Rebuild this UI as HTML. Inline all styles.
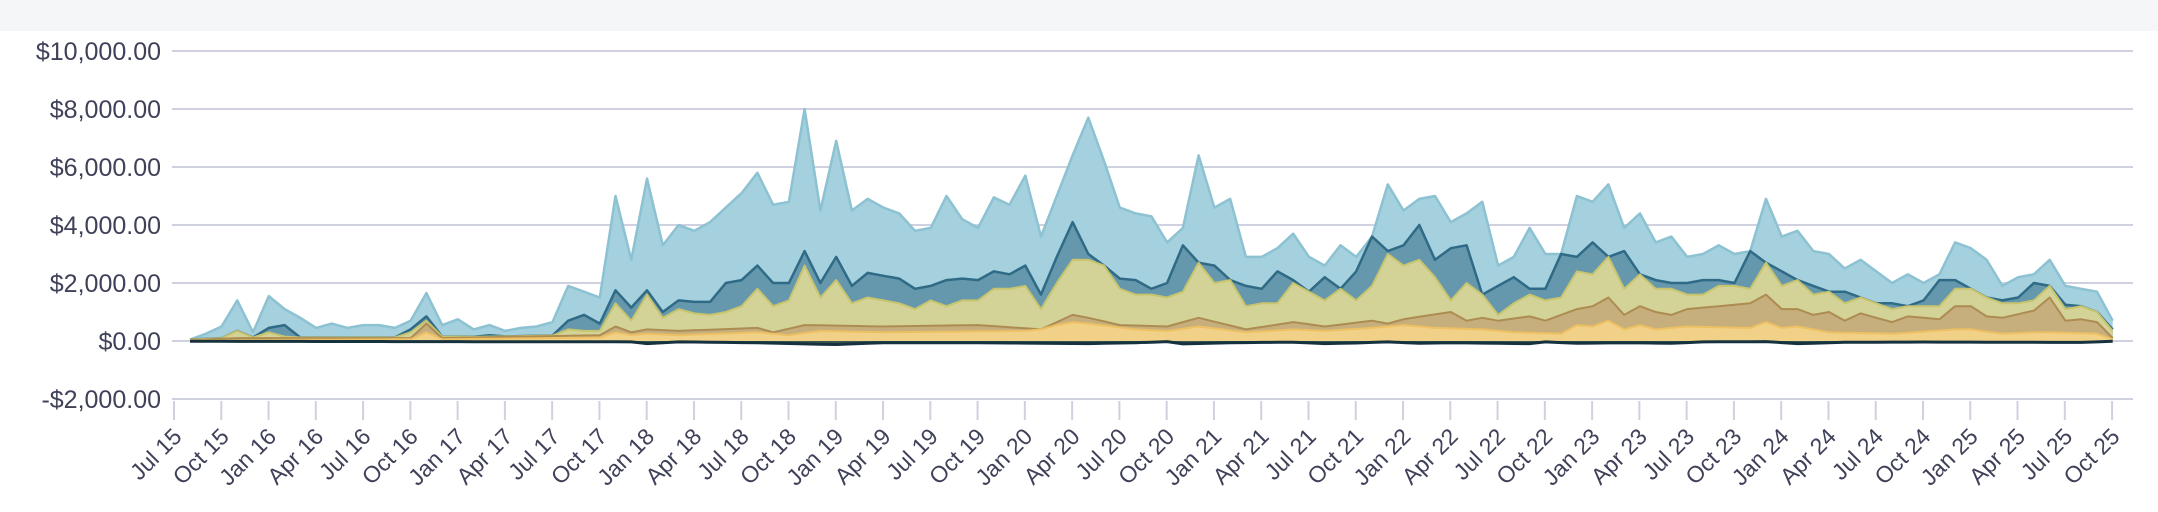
<!DOCTYPE html>
<html><head><meta charset="utf-8"><style>
html,body{margin:0;padding:0;background:#fff;}
svg{display:block;font-family:"Liberation Sans",sans-serif;}
</style></head><body>
<svg id="c" width="2158" height="512" viewBox="0 0 2158 512" xmlns="http://www.w3.org/2000/svg">
<rect x="0" y="0" width="2158" height="31" fill="#f5f6f8"/>
<g id="grid"></g><g id="areas"></g><g id="axis"></g>
</svg>
<script>
var NS="http://www.w3.org/2000/svg";
function el(t,a,p,txt){var e=document.createElementNS(NS,t);for(var k in a)e.setAttribute(k,a[k]);if(txt!=null)e.textContent=txt;p.appendChild(e);return e;}
var L=172,R=2133,y0=341,k=0.029;
function Y(v){return y0-v*k;}
function X(m){return 190+m*15.76;}
var grid=document.getElementById('grid'),axis=document.getElementById('axis'),areas=document.getElementById('areas');
var labs=["$10,000.00","$8,000.00","$6,000.00","$4,000.00","$2,000.00","$0.00","-$2,000.00"];
for(var i=0;i<7;i++){var v=10000-2000*i,y=Y(v);
el('line',{x1:L,x2:R,y1:y,y2:y,stroke:'#cfd1e0','stroke-width':2},grid);
el('text',{x:161,y:y+9,'text-anchor':'end','font-size':25,fill:'#3f4159'},axis,labs[i]);}
var mon=["Jul","Oct","Jan","Apr"];
for(var q=0;q<=41;q++){var x=174+q*47.27;
el('line',{x1:x,x2:x,y1:401,y2:420,stroke:'#cfd1e0','stroke-width':2},axis);
var yr=15+Math.floor((q+2)/4);var lab=mon[q%4]+" "+yr;
el('text',{'text-anchor':'end','font-size':23,fill:'#3f4159',transform:'translate('+(x+9)+',438) rotate(-45)'},axis,lab);}
var blue=[0,250,500,1400,300,1550,1100,800,450,600,450,550,550,450,700,1650,550,750,400,550,350,450,500,650,1900,1700,1500,5000,2800,5600,3300,4000,3800,4100,4600,5100,5800,4700,4800,8000,4500,6900,4500,4900,4600,4400,3800,3900,5000,4200,3900,4950,4700,5700,3600,5000,6400,7700,6200,4600,4400,4300,3400,3900,6400,4600,4900,2900,2900,3200,3700,2900,2600,3300,2900,3400,5400,4500,4900,5000,4100,4400,4800,2600,2900,3900,3000,2800,5000,4800,5400,3900,4400,3400,3600,2900,3000,3300,3000,3000,4900,3600,3800,3100,3000,2500,2800,2400,2000,2300,2000,2300,3400,3200,2800,1900,2200,2300,2800,1900,1800,1700,1700,700];
while(blue.length<123)blue.push(blue[blue.length-1]);
blue[119]=1900;blue[120]=1800;blue[121]=1700;blue[122]=700;
var teal=[0,50,80,350,100,450,550,100,80,80,80,80,80,80,400,850,150,150,100,200,100,100,100,150,700,900,600,1750,1150,1750,1000,1400,1350,1350,2000,2100,2600,2000,2000,3100,2000,2900,1900,2350,2250,2150,1800,1900,2100,2150,2100,2400,2300,2600,1600,2900,4100,3000,2300,2150,2100,1800,2000,3300,2600,2600,1500,1900,1800,2400,2100,1700,2200,1800,2400,3600,3100,3300,4000,2800,3200,3300,1500,1900,2200,1800,1800,3000,2900,3400,2500,3100,2000,2100,2000,2000,2100,2100,2000,3100,2300,2400,1800,1900,1500,1700,1400,1200,1300,1200,1400,2100,2100,1600,1300,1400,1500,2000,1200,1250,1100,400];
var olive=[0,50,80,350,100,300,150,100,80,80,80,80,80,80,300,700,150,150,100,150,100,100,100,120,400,350,350,1300,700,1600,800,1100,950,900,1000,1200,1800,1200,1400,2600,1500,2100,1300,1500,1400,1300,1100,1400,1200,1400,1400,1800,1800,1900,1100,2000,2800,2800,2600,1800,1600,1600,1500,1700,2700,2000,2100,1200,1300,1300,2000,1700,1400,1800,1400,1900,3000,2600,2800,2200,1400,2000,1600,900,1300,1600,1400,1500,2400,2300,2900,1800,2300,1800,1800,1600,1600,1900,1900,1800,2700,1900,2100,1600,1700,1300,1500,1300,1100,1200,1200,1200,1800,1800,1500,1300,1300,1400,1900,1100,1200,1000,350];
[teal,olive].forEach(function(a){while(a.length<123)a.push(a[a.length-1]);});
var tanK=[[0,30],[3,100],[14,100],[15,600],[16,100],[26,200],[27,500],[28,300],[29,400],[31,350],[36,450],[37,300],[39,550],[44,500],[50,550],[54,400],[56,900],[57,800],[59,550],[62,500],[64,800],[67,400],[70,650],[72,500],[75,700],[76,600],[77,750],[80,1000],[81,700],[82,800],[83,700],[85,850],[86,700],[87,900],[88,1100],[89,1200],[90,1500],[91,900],[92,1200],[93,1000],[94,900],[95,1100],[99,1300],[100,1600],[101,1100],[102,1100],[103,900],[104,1000],[105,700],[106,950],[108,650],[109,850],[111,750],[112,1200],[113,1200],[114,850],[115,800],[117,1050],[118,1500],[119,700],[120,750],[121,650],[122,100]];
var orK=[[0,20],[14,60],[15,300],[16,60],[26,120],[27,300],[28,200],[29,250],[31,200],[36,300],[38,200],[40,350],[44,300],[53,350],[56,650],[57,600],[60,400],[62,350],[64,500],[67,300],[70,400],[72,350],[75,450],[77,550],[79,450],[82,400],[84,300],[87,250],[88,550],[89,500],[90,700],[91,400],[92,550],[93,400],[95,500],[99,450],[100,650],[101,450],[102,500],[104,300],[108,250],[112,400],[113,400],[115,250],[117,300],[118,300],[121,250],[122,60]];
var navK=[[0,-10],[28,-30],[29,-90],[31,-30],[36,-60],[39,-100],[41,-120],[44,-60],[50,-60],[57,-90],[60,-60],[62,-20],[63,-100],[66,-60],[70,-40],[72,-90],[74,-70],[76,-30],[78,-80],[80,-60],[83,-80],[85,-90],[86,-30],[88,-80],[91,-60],[94,-80],[96,-30],[100,-20],[102,-90],[105,-45],[110,-35],[120,-50],[122,-10]];
function interp(K){var a=[];for(var m=0;m<=122;m++){for(var j=0;j<K.length-1;j++){if(m>=K[j][0]&&m<=K[j+1][0]){var t=(m-K[j][0])/(K[j+1][0]-K[j][0]);a.push(K[j][1]+t*(K[j+1][1]-K[j][1]));break;}}}return a;}
var tan=interp(tanK),orr=interp(orK),nav=interp(navK);
for(var m=0;m<=122;m++){olive[m]=Math.max(olive[m],tan[m]+20);teal[m]=Math.max(teal[m],olive[m]);blue[m]=Math.max(blue[m],teal[m]);orr[m]=Math.min(orr[m],tan[m]);}
function area(top,bot,fill,stroke,sw){var d="M"+X(0)+","+Y(top[0]);for(var m=1;m<=122;m++)d+="L"+X(m).toFixed(1)+","+Y(top[m]).toFixed(1);
for(var m=122;m>=0;m--)d+="L"+X(m).toFixed(1)+","+Y(bot?bot[m]:0).toFixed(1);d+="Z";
el('path',{d:d,fill:fill},areas);
var l="M"+X(0)+","+Y(top[0]);for(var m=1;m<=122;m++)l+="L"+X(m).toFixed(1)+","+Y(top[m]).toFixed(1);
el('path',{d:l,fill:'none',stroke:stroke,'stroke-width':sw,'stroke-linejoin':'round'},areas);}
var zero=[];for(var m=0;m<=122;m++)zero.push(0);
area(blue,zero,'#a5d0dd','#8cc2d2',2.5);
area(teal,zero,'#6598ad','#2f6b86',2.5);
area(olive,zero,'#d3d397','#c8c46e',2);
area(tan,zero,'#c6af7d','#ad8c52',2);
area(orr,zero,'#f1d187','#ecc063',2);
area(zero,nav,'#3d5650','#1d3a47',0);
var l="M"+X(0)+","+Y(nav[0]);for(var m=1;m<=122;m++)l+="L"+X(m).toFixed(1)+","+Y(nav[m]).toFixed(1);
el('path',{d:l,fill:'none',stroke:'#16323f','stroke-width':3},areas);
</script>
</body></html>
